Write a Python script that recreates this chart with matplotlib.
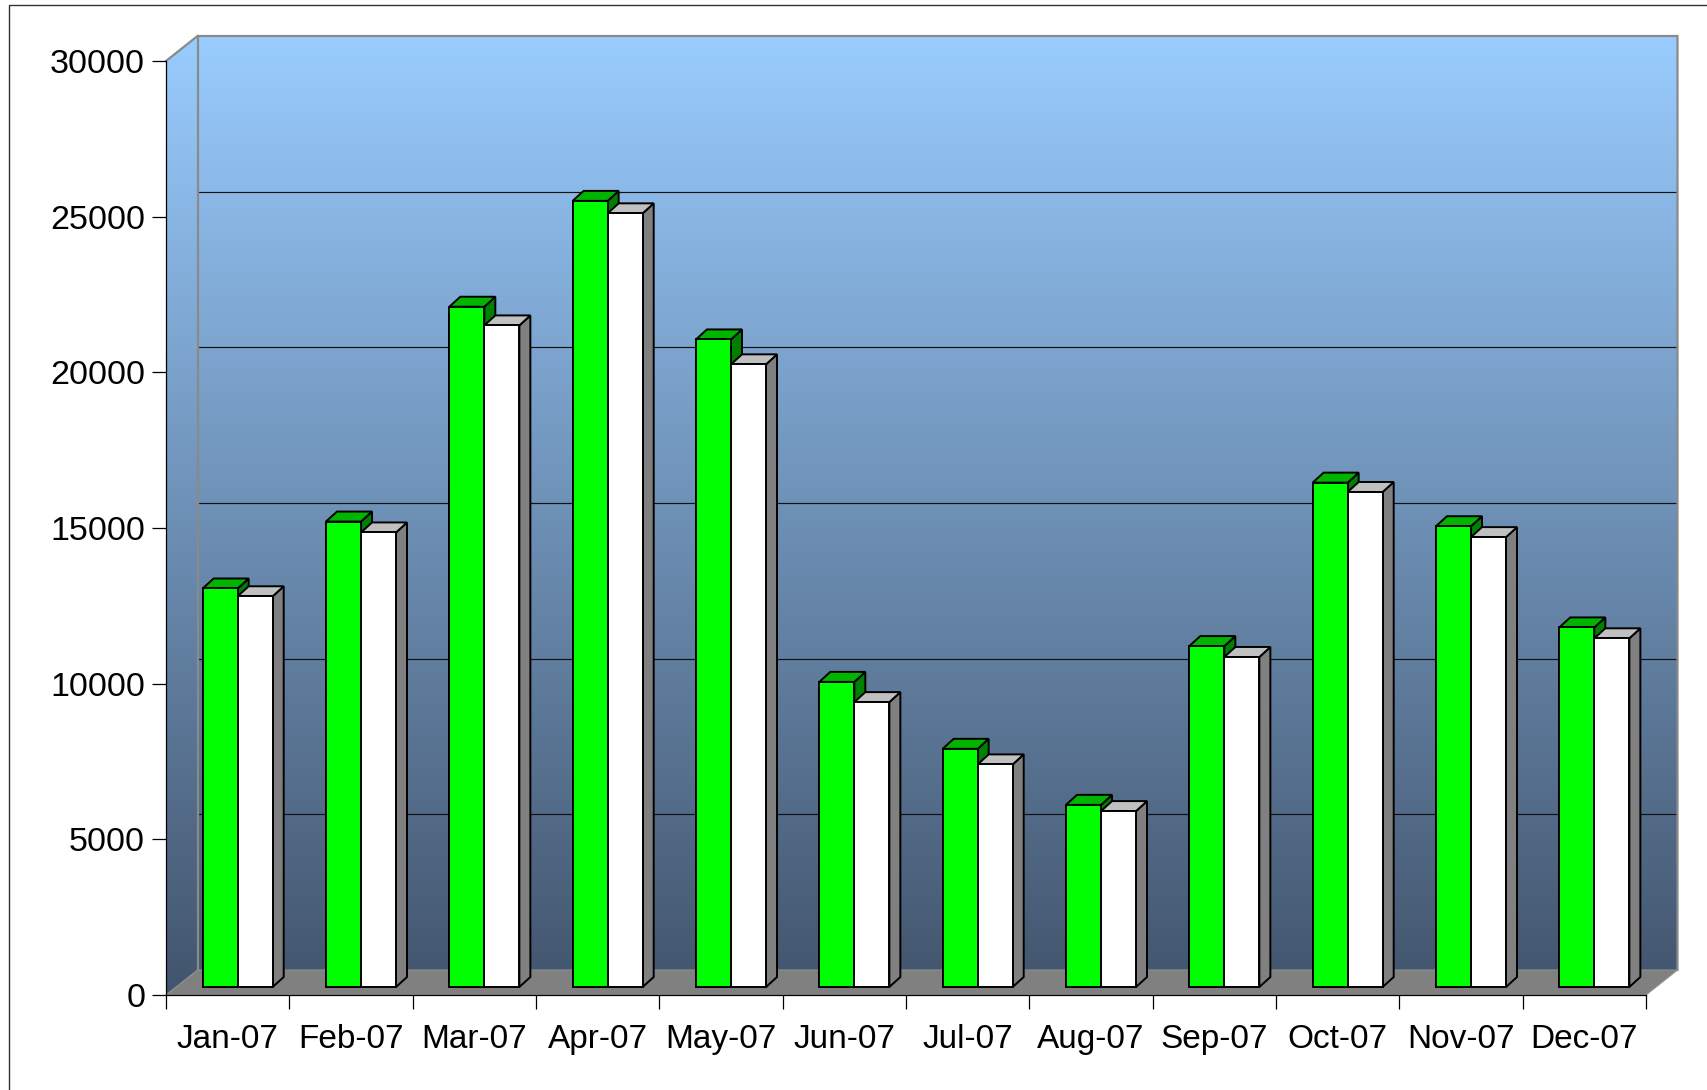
import matplotlib
matplotlib.use("Agg")
import matplotlib.pyplot as plt
import numpy as np
from matplotlib.patches import Polygon, Rectangle

# ---------------- data ----------------
months = ["Jan-07", "Feb-07", "Mar-07", "Apr-07", "May-07", "Jun-07",
          "Jul-07", "Aug-07", "Sep-07", "Oct-07", "Nov-07", "Dec-07"]
green_vals = [12800, 14950, 21850, 25250, 20800, 9800,
              7650, 5850, 10950, 16200, 14800, 11550]
white_vals = [12550, 14600, 21250, 24850, 20000, 9150,
              7150, 5650, 10600, 15900, 14450, 11200]
y_ticks = [0, 5000, 10000, 15000, 20000, 25000, 30000]

# ---------------- layout ----------------
plt.rcParams['font.family'] = ['Liberation Sans', 'DejaVu Sans']
W, H = 1707, 1090
fig = plt.figure(figsize=(W / 100, H / 100), dpi=100)
fig.patch.set_facecolor('white')

x_left, x_right, y_bot, y_top = 166, 1646, 995, 61
ax = fig.add_axes([x_left / W, (H - y_bot) / H,
                   (x_right - x_left) / W, (y_bot - y_top) / H])
n = len(months)
ymax = y_ticks[-1]
ax.set_xlim(0, n)
ax.set_ylim(0, ymax)
ax.patch.set_visible(False)

# pixel -> data conversion for the oblique depth
px_x = n / (x_right - x_left)
px_y = ymax / (y_bot - y_top)
DX, DY = 31.5 * px_x, 25 * px_y      # full depth of the box
FX, FY = 10 * px_x, 8 * px_y         # bar front plane offset
BX, BY = 11 * px_x, 10 * px_y        # bar depth
BW = 0.284                           # bar width (category units)

# ---------------- walls ----------------
wall_pts = [(0, 0), (DX, DY), (n + DX, DY), (n + DX, ymax + DY), (DX, ymax + DY), (0, ymax)]
wall = Polygon(wall_pts, closed=True, facecolor='none', edgecolor='none',
               transform=ax.transData, clip_on=False)
ax.add_patch(wall)
top_c = np.array([153, 204, 255]) / 255
bot_c = np.array([66, 84, 108]) / 255
t = np.linspace(0, 1, 512)[:, None]
grad = (top_c[None, :] * (1 - t) + bot_c[None, :] * t)[:, None, :]
im = ax.imshow(grad, extent=[0, n + DX, 0, ymax + DY], aspect='auto',
               origin='upper', zorder=0, interpolation='bilinear')
im.set_clip_box(fig.bbox)
im.set_clip_path(wall)
ax.set_xlim(0, n)
ax.set_ylim(0, ymax)

# gridlines on back wall
for v in y_ticks[1:-1]:
    ax.plot([DX, n + DX], [v + DY, v + DY], color='#111111', lw=0.85, zorder=1, clip_on=False)

# wall outlines (grey)
ax.plot([0, DX, n + DX, n + DX], [ymax, ymax + DY, ymax + DY, DY],
        color='#8a8a8a', lw=1.6, zorder=1, clip_on=False, solid_joinstyle='miter')
ax.plot([DX, DX], [DY, ymax + DY], color='#8a8a8a', lw=1.6, zorder=1, clip_on=False)

# floor
floor = Polygon([(0, 0), (n, 0), (n + DX, DY), (DX, DY)], closed=True,
                facecolor='#808080', edgecolor='#8f8f8f', lw=0.8, zorder=2, clip_on=False)
ax.add_patch(floor)

# ---------------- bars ----------------
series = [
    (green_vals, '#00ff00', '#00b400', '#008000'),
    (white_vals, '#ffffff', '#c0c0c0', '#808080'),
]
z = 3
for i in range(n):
    for j, (vals, c_front, c_top, c_side) in enumerate(series):
        v = vals[i]
        x0 = i + 0.5 - BW + j * BW + FX
        x1 = x0 + BW
        y0 = FY
        y1 = FY + v
        front = [(x0, y0), (x1, y0), (x1, y1), (x0, y1)]
        top = [(x0, y1), (x1, y1), (x1 + BX, y1 + BY), (x0 + BX, y1 + BY)]
        side = [(x1, y0), (x1 + BX, y0 + BY), (x1 + BX, y1 + BY), (x1, y1)]
        for pts, col in ((side, c_side), (top, c_top), (front, c_front)):
            ax.add_patch(Polygon(pts, closed=True, facecolor=col, edgecolor='black',
                                 lw=1.4, joinstyle='miter', zorder=z, clip_on=False))
        z += 1

# ---------------- axes / ticks ----------------
for s in ('top', 'right'):
    ax.spines[s].set_visible(False)
for s in ('left', 'bottom'):
    ax.spines[s].set_color('black')
    ax.spines[s].set_linewidth(0.9)
    ax.spines[s].set_zorder(50)

ax.set_yticks(y_ticks)
ax.set_yticklabels([str(v) for v in y_ticks])
ax.tick_params(axis='y', which='major', length=10, width=0.9, color='black',
               pad=5, labelsize=24.5)
ax.set_xticks(np.arange(n + 1))
ax.set_xticklabels([''] * (n + 1))
ax.tick_params(axis='x', which='major', length=10, width=0.9, color='black')
ax.set_xticks(np.arange(n) + 0.5, minor=True)
ax.set_xticklabels(months, minor=True)
ax.tick_params(axis='x', which='minor', length=0, pad=21, labelsize=24)

# outer chart border (left and top edges visible)
fig.patches.append(Rectangle((9 / W, -0.2), 1.5, 1.2 - 5 / H, transform=fig.transFigure,
                             facecolor='none', edgecolor='#333333', lw=1.0))

fig.savefig('out.png', dpi=100)
